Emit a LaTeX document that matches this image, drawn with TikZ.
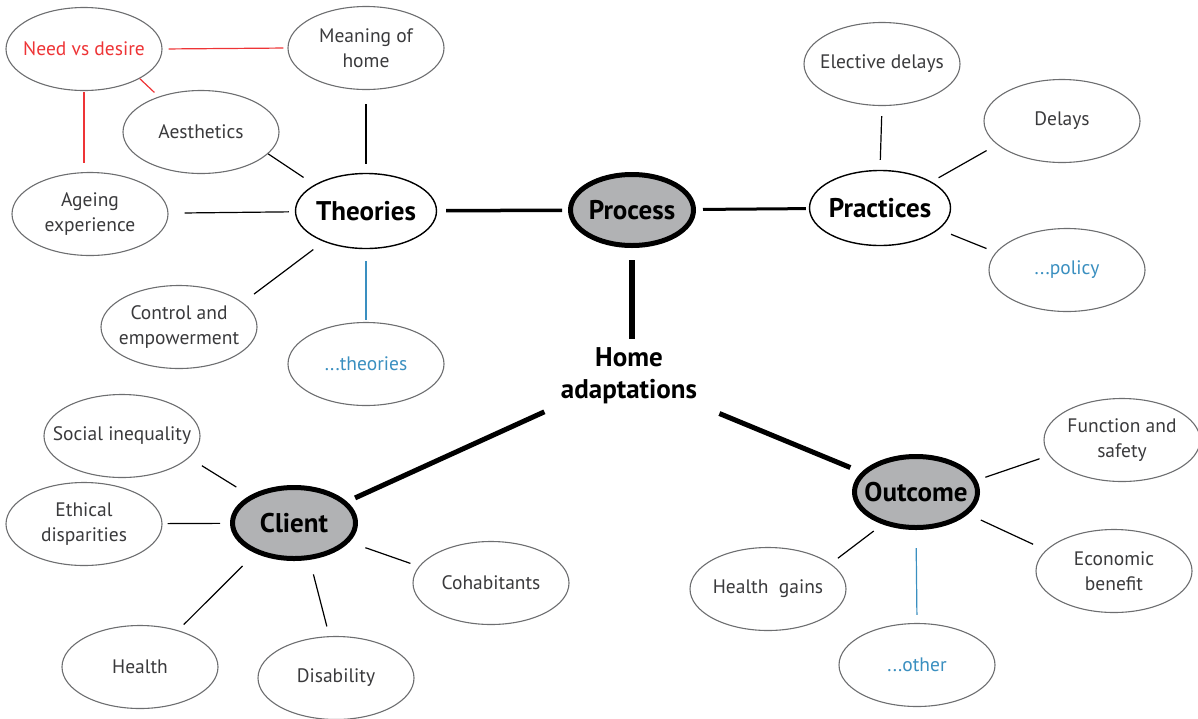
\documentclass[tikz,border=0pt]{standalone}
\usepackage{fontspec}
\setmainfont{PT Sans}
\usetikzlibrary{shapes.geometric}
\definecolor{leafline}{HTML}{6D6E70}
\definecolor{leaftext}{HTML}{3A3A3C}
\definecolor{needred}{HTML}{EE3436}
\definecolor{moreblue}{HTML}{3A8FC0}
\definecolor{pivotgray}{HTML}{B1B2B4}
\begin{document}
\begin{tikzpicture}[x=1pt, y=-1pt, line join=round,
  leaf/.style={ellipse, draw=leafline, line width=1.1pt, fill=white, inner xsep=-20pt, inner ysep=0pt,
    minimum width=156pt, minimum height=83pt, align=center, text=leaftext, font=\fontsize{19.5}{25}\selectfont},
  theme/.style={ellipse, draw=black, line width=1.4pt, fill=white, inner xsep=-12pt, inner ysep=0pt,
    minimum width=141pt, minimum height=75pt, font=\fontsize{27}{30}\selectfont\bfseries},
  pivot/.style={ellipse, draw=black, line width=5pt, fill=pivotgray, inner xsep=-18pt, inner ysep=0pt,
    minimum width=123pt, minimum height=71pt, font=\fontsize{27}{30}\selectfont\bfseries},
  link/.style={line width=1.2pt},
  redlink/.style={link, draw=needred},
  bluelink/.style={link, draw=moreblue},
  trunk/.style={line width=3.5pt}]
  \useasboundingbox (0,0) rectangle (1198,718);
  % theories branch
  \node[leaf, text=needred] (need) at (84,49) {Need vs desire};
  \node[leaf] (meaning) at (366,48) {Meaning of\\home};
  \node[leaf] (aesth) at (201,132) {Aesthetics};
  \node[leaf] (ageing) at (90,214) {Ageing\\experience};
  \node[theme] (theories) at (366,211) {Theories};
  \node[leaf] (control) at (179,327) {Control and\\empowerment};
  \node[leaf, text=moreblue] (moretheories) at (366,364) {...theories};
  % process and practices
  \node[pivot] (process) at (632,210) {Process};
  \node[leaf] (elective) at (882,64) {Elective delays};
  \node[leaf] (delays) at (1062,121) {Delays};
  \node[theme] (practices) at (880,208) {Practices};
  \node[leaf, text=moreblue] (policy) at (1067,270) {...policy};
  \node[font=\fontsize{27}{32}\selectfont\bfseries, align=center, inner sep=0pt] (home) at (629,376) {Home\\adaptations};
  % client branch
  \node[leaf] (social) at (122,436) {Social inequality};
  \node[leaf] (ethical) at (84,524) {Ethical\\disparities};
  \node[pivot] (client) at (294,523) {Client};
  \node[leaf] (cohab) at (491,583) {Cohabitants};
  \node[leaf] (health) at (140,667) {Health};
  \node[leaf] (disability) at (336,678) {Disability};
  % outcome branch
  \node[leaf] (function) at (1122,440) {Function and\\safety};
  \node[pivot] (outcome) at (916,492) {Outcome};
  \node[leaf] (economic) at (1114,571) {Economic\\benefit};
  \node[leaf] (gains) at (768,589) {Health\ \ gains};
  \node[leaf, text=moreblue] (other) at (917,665) {...other};

  \draw[redlink, shorten <=6pt, shorten >=4pt] (need.east) -- (meaning.west);
  \draw[redlink, shorten >=6pt] (need.-28) -- (aesth.140);
  \draw[redlink, shorten <=1pt, shorten >=9pt] (need.south) -- (need.south |- ageing.north);
  \draw[link, shorten <=14pt, shorten >=9pt] (meaning.south) -- (theories.north);
  \draw[link, shorten >=13pt] (aesth.-18) -- (theories.153);
  \draw[link, shorten <=16pt, shorten >=6pt] (ageing) -- (theories);
  \draw[link, shorten <=13pt, shorten >=14pt] (theories.216) -- (control.21);
  \draw[bluelink, shorten <=12pt, shorten >=2pt] (theories.south) -- (moretheories.north);
  \draw[trunk, shorten <=9pt, shorten >=6pt] (theories) -- (process);
  \draw[trunk, line width=3pt, shorten <=7pt, shorten >=3pt] (process) -- (practices);
  \draw[line width=6pt, shorten <=12pt, shorten >=9pt] (process.south) -- (process.south |- home.north);
  \draw[link, shorten <=10pt, shorten >=10pt] (elective.south) -- (practices.north);
  \draw[link, shorten <=8pt, shorten >=12pt] (practices.27) -- (delays.200);
  \draw[link, shorten <=13pt, shorten >=10pt] (practices.-20) -- (policy.166);
  \draw[line width=5pt, shorten <=18pt, shorten >=9pt] (home.south west) -- (client.22);
  \draw[line width=5pt, shorten <=24pt, shorten >=12pt] (home.south east) -- (outcome.160);
  \draw[link, shorten <=16pt, shorten >=15pt] (client.148) -- (social.-18);
  \draw[link, shorten <=10pt, shorten >=5pt] (client) -- (ethical);
  \draw[link, shorten <=18pt, shorten >=8pt] (client.218) -- (health.44);
  \draw[link, shorten <=15pt, shorten >=10pt] (client.-67) -- (disability.99);
  \draw[link, shorten <=17pt, shorten >=9pt] (client.-19) -- (cohab.167);
  \draw[link, shorten <=9pt, shorten >=10pt] (outcome.11) -- (function.192);
  \draw[link, shorten <=14pt, shorten >=14pt] (outcome.-23) -- (economic.163);
  \draw[link, shorten <=11pt, shorten >=9pt] (outcome.224) -- (gains.22);
  \draw[bluelink, shorten <=18pt, shorten >=8pt] (outcome.south) -- (other.north);
\end{tikzpicture}
\end{document}
